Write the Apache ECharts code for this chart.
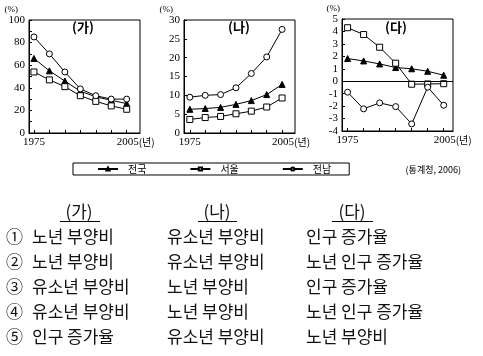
<!DOCTYPE html>
<html><head><meta charset="utf-8">
<script src="https://cdn.jsdelivr.net/npm/echarts@6/dist/echarts.min.js"></script>
<style>html,body{margin:0;padding:0;background:#fff}#c{width:483px;height:356px}</style>
</head><body><div id="c"></div>
<script>
// ---- data ----
const years = [1975, 1980, 1985, 1990, 1995, 2000, 2005];
const seriesNames = ['전국', '서울', '전남'];
// (가)
const gaNation  = [66, 55, 46, 37, 32, 29, 26];
const gaSeoul   = [54, 47, 41, 33, 28, 24, 21];
const gaJeonnam = [85, 70, 54, 39, 33, 30, 30];
// (나)
const naNation  = [6.3, 6.5, 6.8, 7.6, 8.6, 10.2, 12.9];
const naSeoul   = [3.6, 4.1, 4.4, 5.1, 5.8, 6.9, 9.3];
const naJeonnam = [9.5, 10.0, 10.2, 12.0, 15.8, 20.2, 27.5];
// (다)
const daNation  = [1.82, 1.63, 1.39, 1.10, 1.00, 0.80, 0.48];
const daSeoul   = [4.30, 3.75, 2.73, 1.45, -0.24, -0.22, -0.20];
const daJeonnam = [-0.88, -2.22, -1.74, -2.04, -3.43, -0.48, -1.93];

const panelTitles = ['(가)', '(나)', '(다)'];
const yTicksGa = [0, 20, 40, 60, 80, 100];
const yTicksNa = [0, 5, 10, 15, 20, 25, 30];
const yTicksDa = [-4, -3, -2, -1, 0, 1, 2, 3, 4, 5];
const xTickLabels = [1975, 2005];
const yUnit = '(%)';
const xUnit = '(년)';
const sourceNote = '(통계청, 2006)';

const tableHeaders = ['(가)', '(나)', '(다)'];
const optionNums = ['①', '②', '③', '④', '⑤'];
const colGa = ['노년 부양비', '노년 부양비', '유소년 부양비', '유소년 부양비', '인구 증가율'];
const colNa = ['유소년 부양비', '유소년 부양비', '노년 부양비', '노년 부양비', '유소년 부양비'];
const colDa = ['인구 증가율', '노년 인구 증가율', '인구 증가율', '노년 인구 증가율', '노년 부양비'];

// ---- layout ----
const SERIF = "'Liberation Serif','DejaVu Serif',serif";
const KR = "'Noto Sans CJK KR','Noto Sans',sans-serif";
const panels = [
  { grid: {left: 29, top: 20, width: 111, height: 113}, xr: [1973.4, 2009.3], yt: yTicksGa, minor: true,
    data: [gaNation, gaSeoul, gaJeonnam], namePad: 11, titleX: 83 },
  { grid: {left: 184, top: 20, width: 111, height: 113}, xr: [1973.1, 2009.2], yt: yTicksNa, minor: false,
    data: [naNation, naSeoul, naJeonnam], namePad: 11, titleX: 239 },
  { grid: {left: 342, top: 19, width: 111, height: 112}, xr: [1973.25, 2007.9], yt: yTicksDa, minor: false,
    data: [daNation, daSeoul, daJeonnam], namePad: 2, titleX: 396 }
];
const symbolStyles = [
  {symbol: 'triangle', symbolSize: 6, fill: '#000'},
  {symbol: 'rect', symbolSize: 6, fill: '#fff'},
  {symbol: 'circle', symbolSize: 6, fill: '#fff'}
];

const grids = [], xAxes = [], yAxes = [], series = [], graphics = [];
panels.forEach((p, i) => {
  grids.push(Object.assign({show: true, borderColor: '#000', borderWidth: 1, backgroundColor: 'transparent'}, p.grid));
  xAxes.push({
    type: 'value', gridIndex: i, min: p.xr[0], max: p.xr[1],
    axisLine: {show: true, onZero: false, lineStyle: {color: '#000', width: 1}},
    axisTick: {show: true, inside: true, length: 3, customValues: years, lineStyle: {color: '#000'}},
    axisLabel: {
      show: true, customValues: xTickLabels, margin: 4, color: '#000', fontFamily: SERIF, fontSize: 11,
      formatter: v => v === xTickLabels[xTickLabels.length - 1] ? '{p|}' + v + '{u|' + xUnit + '}' : String(v),
      rich: {p: {width: 18}, u: {fontFamily: KR, fontSize: 10, color: '#000'}}
    },
    splitLine: {show: false}
  });
  const yt = p.yt;
  yAxes.push({
    type: 'value', gridIndex: i, min: yt[0], max: yt[yt.length - 1], interval: yt[1] - yt[0],
    name: yUnit, nameLocation: 'end', nameGap: 5,
    nameTextStyle: {align: 'right', verticalAlign: 'bottom', fontSize: 9, fontFamily: SERIF, color: '#000', padding: [0, p.namePad, 0, 0]},
    axisLine: {show: true, onZero: false, lineStyle: {color: '#000', width: 1}},
    axisTick: {show: true, inside: true, length: 3, lineStyle: {color: '#000'}},
    minorTick: {show: p.minor, splitNumber: 2, length: 3, lineStyle: {color: '#000'}},
    axisLabel: {margin: 4, color: '#000', fontFamily: SERIF, fontSize: 11},
    splitLine: {show: false}
  });
  p.data.forEach((arr, k) => {
    const s = symbolStyles[k];
    const ser = {
      name: seriesNames[k], type: 'line', xAxisIndex: i, yAxisIndex: i,
      data: years.map((y, j) => [y, arr[j]]),
      symbol: s.symbol, symbolSize: s.symbolSize, showAllSymbol: true,
      lineStyle: {color: '#000', width: 1},
      itemStyle: {color: s.fill, borderColor: '#000', borderWidth: 1},
      z: 3 + k
    };
    if (i === 2 && k === 0) {
      ser.markLine = {silent: true, symbol: 'none', label: {show: false}, animation: false,
        lineStyle: {color: '#000', width: 1, type: 'solid'}, data: [{yAxis: 0}]};
    }
    series.push(ser);
  });
  graphics.push({type: 'text', x: p.titleX, y: 27, style: {text: panelTitles[i], align: 'center', verticalAlign: 'middle',
    font: 'bold 13px ' + KR, fill: '#000'}});
});

graphics.push({type: 'text', x: 461, y: 170, style: {text: sourceNote, align: 'right', verticalAlign: 'middle',
  font: '9px ' + KR, fill: '#000'}});

// table
const colX = [32, 167, 306];
const headCX = [79, 217, 352];
const underline = [[60, 100], [198, 237], [332, 373]];
tableHeaders.forEach((h, i) => {
  graphics.push({type: 'text', x: headCX[i], y: 212, style: {text: h, align: 'center', verticalAlign: 'middle', font: '17px ' + KR, fill: '#111'}});
  graphics.push({type: 'line', shape: {x1: underline[i][0], y1: 221.5, x2: underline[i][1], y2: 221.5}, style: {stroke: '#000', lineWidth: 1}});
});
const cols = [colGa, colNa, colDa];
optionNums.forEach((n, r) => {
  const y = 237 + r * 25;
  graphics.push({type: 'text', x: 6, y: y, style: {text: n, align: 'left', verticalAlign: 'middle', font: '17px ' + KR, fill: '#111'}});
  cols.forEach((c, ci) => {
    graphics.push({type: 'text', x: colX[ci], y: y, style: {text: c[r], align: 'left', verticalAlign: 'middle', font: '17px ' + KR, fill: '#111'}});
  });
});

const chart = echarts.init(document.getElementById('c'), null, {renderer: 'canvas'});
chart.setOption({
  animation: false,
  backgroundColor: '#fff',
  grid: grids, xAxis: xAxes, yAxis: yAxes, series: series,
  legend: {
    data: seriesNames, left: 73, top: 163, orient: 'horizontal',
    padding: [1, 18, 1, 24], itemGap: 43, itemWidth: 20, itemHeight: 4,
    borderColor: '#000', borderWidth: 1, borderRadius: 0,
    textStyle: {fontSize: 10, fontFamily: KR, color: '#000', padding: [0, 0, 0, 5]}
  },
  graphic: graphics
});
</script>
</body></html>
